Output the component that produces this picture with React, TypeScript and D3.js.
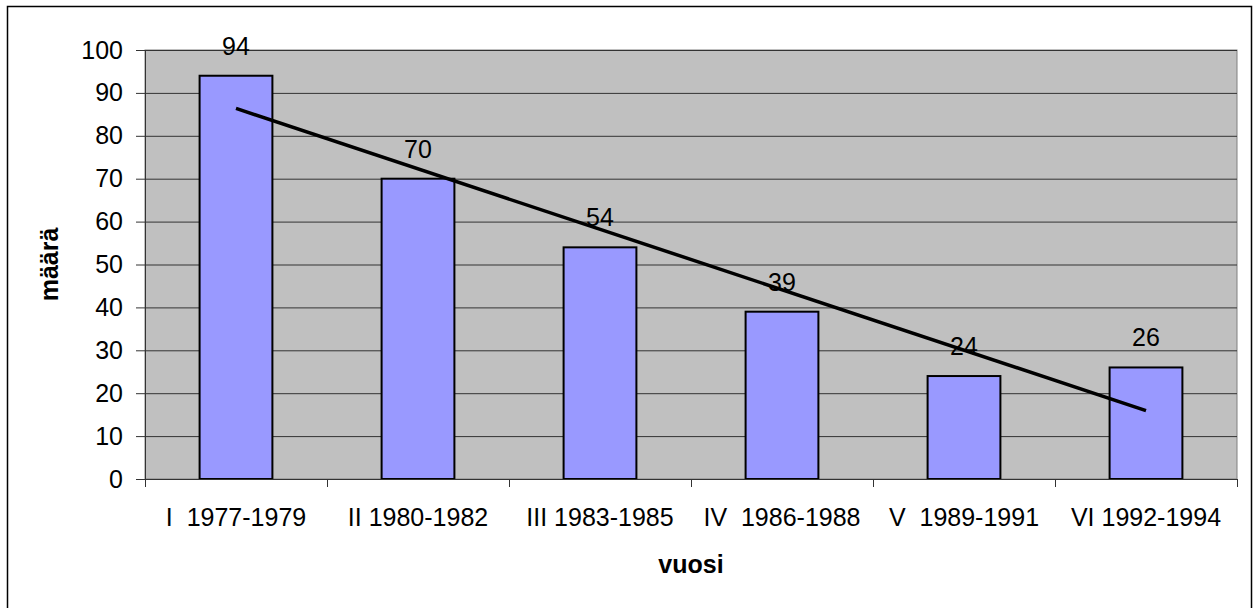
import React, { useEffect, useRef } from 'react';
import * as d3 from 'd3';

const categories = ['I  1977-1979', 'II 1980-1982', 'III 1983-1985', 'IV  1986-1988', 'V  1989-1991', 'VI 1992-1994'];
const values = [94, 70, 54, 39, 24, 26];
const yTicks = [0, 10, 20, 30, 40, 50, 60, 70, 80, 90, 100];

const W = 1257;
const H = 608;

export default function App() {
  const ref = useRef<SVGSVGElement>(null);

  useEffect(() => {
    const svg = d3.select(ref.current);
    svg.selectAll('*').remove();

    const left = 145;
    const right = 1237;
    const top = 50;
    const bottom = 479;
    const font = 'Liberation Sans, Arial, sans-serif';
    const fs = 25;

    // outer chart border
    svg.append('rect')
      .attr('x', 7.5).attr('y', 6.5)
      .attr('width', 1244).attr('height', 640)
      .attr('fill', 'white').attr('stroke', 'black').attr('stroke-width', 1.5);

    const x = d3.scaleBand().domain(categories).range([left, right]);
    const y = d3.scaleLinear().domain([0, 100]).range([bottom, top]);

    // plot area
    svg.append('rect')
      .attr('x', left).attr('y', top)
      .attr('width', right - left).attr('height', bottom - top)
      .attr('fill', '#c0c0c0').attr('stroke', '#808080').attr('stroke-width', 1);

    svg.append('g').selectAll('line')
      .data(yTicks.slice(1))
      .join('line')
      .attr('x1', left).attr('x2', right)
      .attr('y1', d => y(d) + 0.5).attr('y2', d => y(d) + 0.5)
      .attr('stroke', '#333').attr('stroke-width', 1);

    // bars
    const bw = x.bandwidth() / 2.5;
    svg.append('g').selectAll('rect')
      .data(values)
      .join('rect')
      .attr('x', (d, i) => x(categories[i])! + (x.bandwidth() - bw) / 2)
      .attr('y', d => y(d))
      .attr('width', bw)
      .attr('height', d => bottom - y(d))
      .attr('fill', '#9999ff')
      .attr('stroke', 'black')
      .attr('stroke-width', 2);

    // data labels
    svg.append('g').selectAll('text')
      .data(values)
      .join('text')
      .attr('x', (d, i) => x(categories[i])! + x.bandwidth() / 2)
      .attr('y', d => y(d) - 21)
      .attr('text-anchor', 'middle')
      .attr('font-family', font).attr('font-size', fs)
      .text(d => d);

    // linear trend line
    const xs = values.map((d, i) => i + 1);
    const mx = d3.mean(xs)!;
    const my = d3.mean(values)!;
    const slope = d3.sum(xs, (v, i) => (v - mx) * (values[i] - my)) / d3.sum(xs, v => (v - mx) ** 2);
    const fit = (t: number) => my + slope * (t - mx);
    const cx = (i: number) => x(categories[i])! + x.bandwidth() / 2;
    svg.append('path')
      .attr('d', d3.line()([[cx(0), y(fit(1))], [cx(5), y(fit(6))]]))
      .attr('stroke', 'black').attr('stroke-width', 3.5).attr('fill', 'none');

    // y axis
    const gy = svg.append('g').attr('transform', `translate(${left},0)`)
      .call(d3.axisLeft(y).tickValues(yTicks).tickSize(9).tickPadding(13));
    gy.select('.domain').attr('stroke', '#333');
    gy.selectAll('line').attr('stroke', '#333');
    gy.selectAll('text').attr('font-family', font).attr('font-size', fs).attr('fill', 'black');

    // x axis
    const xb = d3.scaleLinear().domain([0, categories.length]).range([left, right]);
    const gx = svg.append('g').attr('transform', `translate(0,${bottom})`)
      .call(d3.axisBottom(xb).ticks(6).tickSize(8).tickFormat(() => ''));
    gx.select('.domain').attr('stroke', '#333');
    gx.selectAll('line').attr('stroke', '#333');

    svg.append('g').selectAll('text')
      .data(categories)
      .join('text')
      .attr('x', d => x(d)! + x.bandwidth() / 2)
      .attr('y', 526)
      .attr('text-anchor', 'middle')
      .attr('xml:space', 'preserve')
      .style('white-space', 'pre')
      .attr('font-family', font).attr('font-size', fs)
      .text(d => d);

    // axis titles
    svg.append('text')
      .attr('x', (left + right) / 2).attr('y', 573)
      .attr('text-anchor', 'middle')
      .attr('font-family', font).attr('font-size', fs).attr('font-weight', 'bold')
      .text('vuosi');

    svg.append('text')
      .attr('transform', `translate(58,${(top + bottom) / 2}) rotate(-90)`)
      .attr('text-anchor', 'middle')
      .attr('font-family', font).attr('font-size', fs).attr('font-weight', 'bold')
      .text('määrä');
  }, []);

  return (
    <svg ref={ref} width={W} height={H}
      style={{ position: 'absolute', left: 0, top: 0, background: 'white' }} />
  );
}
